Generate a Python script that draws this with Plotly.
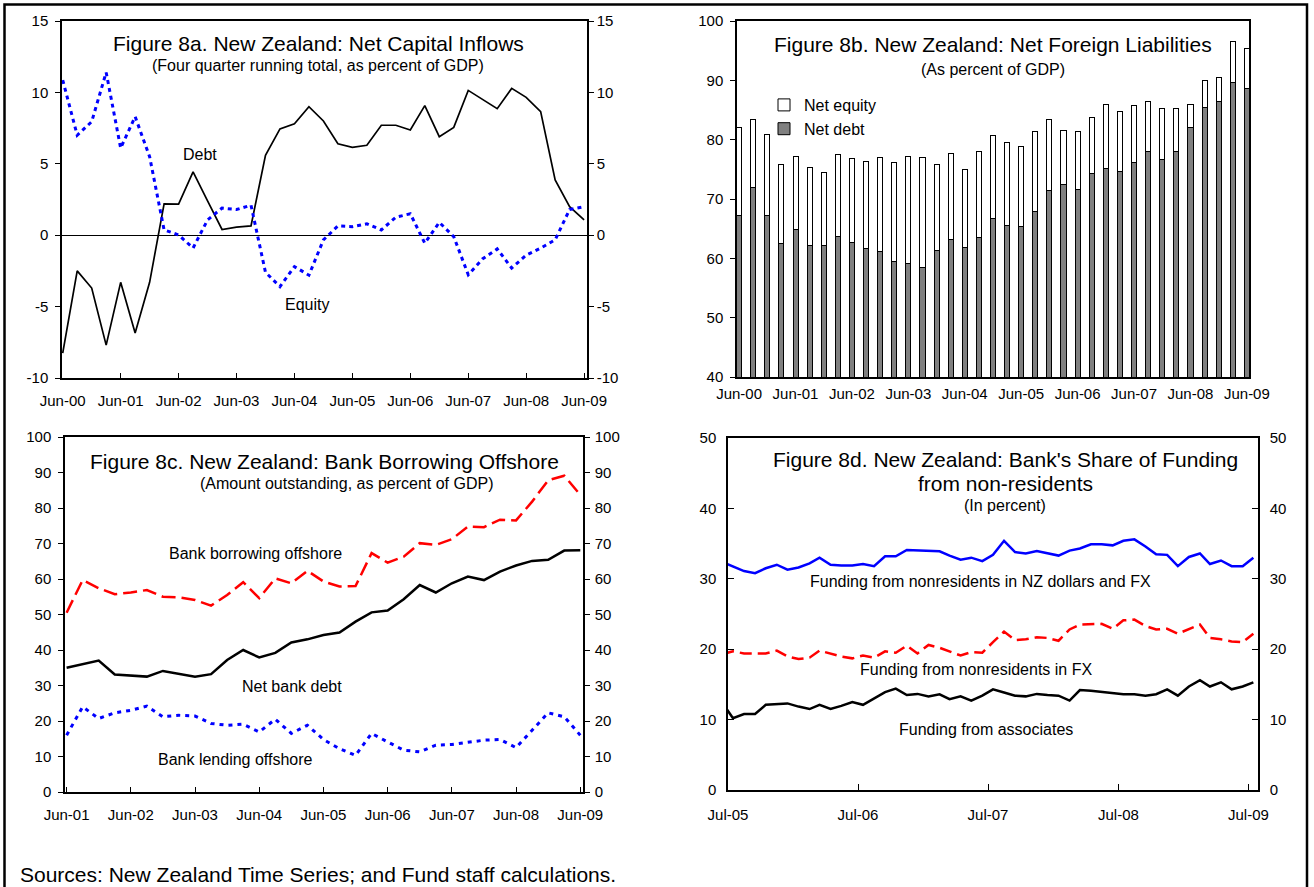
import plotly.graph_objects as go
import pandas as pd

W, H = 1314, 887
FONT = "Liberation Sans, Arial, sans-serif"

# ---------------- Data ----------------
# Figure 8a: quarterly Jun-00 .. Jun-09
q_a = ["Jun-00", "Sep-00", "Dec-00", "Mar-01", "Jun-01", "Sep-01", "Dec-01", "Mar-02",
       "Jun-02", "Sep-02", "Dec-02", "Mar-03", "Jun-03", "Sep-03", "Dec-03", "Mar-04",
       "Jun-04", "Sep-04", "Dec-04", "Mar-05", "Jun-05", "Sep-05", "Dec-05", "Mar-06",
       "Jun-06", "Sep-06", "Dec-06", "Mar-07", "Jun-07", "Sep-07", "Dec-07", "Mar-08",
       "Jun-08", "Sep-08", "Dec-08", "Mar-09", "Jun-09"]
debt_flow = [-8.25, -2.5, -3.7, -7.7, -3.3, -6.85, -3.3, 2.2, 2.17, 4.43, 2.4, 0.4, 0.56, 0.65,
             5.6, 7.44, 7.8, 9.0, 8.0, 6.4, 6.15, 6.3, 7.7, 7.7, 7.37, 9.07, 6.9, 7.55, 10.14,
             9.5, 8.86, 10.28, 9.65, 8.65, 3.87, 2.0, 1.07]
equity_flow = [10.86, 7.0, 7.95, 11.4, 6.1, 8.3, 5.5, 0.37, 0.02, -0.9, 1.07, 1.9, 1.8, 2.1,
               -2.6, -3.6, -2.2, -2.8, -0.33, 0.65, 0.6, 0.8, 0.37, 1.26, 1.5, -0.56, 0.9,
               -0.1, -2.77, -1.65, -0.96, -2.3, -1.4, -0.9, -0.33, 1.8, 2.0]
ticks_a = [-10, -5, 0, 5, 10, 15]
ticktext_a = ["-10", "-5", "0", "5", "10", "15"]

# Figure 8b: quarterly Jun-00 .. Jun-09 (stacked bars)
net_debt = [67.2, 72.0, 67.2, 62.5, 64.8, 62.1, 62.2, 63.6, 62.6, 61.6, 61.1, 59.4, 59.1, 58.5,
            61.3, 63.1, 61.9, 63.5, 66.7, 65.6, 65.4, 67.9, 71.4, 72.4, 71.6, 74.3, 75.1, 74.6,
            76.1, 78.0, 76.7, 78.0, 82.0, 85.4, 86.5, 89.6, 88.6]
net_equity = [14.9, 11.4, 13.6, 13.3, 12.3, 13.2, 12.2, 13.9, 14.2, 14.7, 15.9, 16.8, 18.0, 18.5,
              14.5, 14.5, 13.1, 14.5, 14.0, 13.9, 13.5, 13.4, 12.0, 9.1, 9.8, 9.4, 10.9, 10.2,
              9.6, 8.5, 8.5, 7.2, 4.0, 4.5, 3.9, 6.9, 6.7]

# Figure 8c: quarterly Jun-01 .. Jun-09
q_c = q_a[4:]
net_bank_debt = [35.0, 36.0, 37.0, 33.1, 32.9, 32.5, 34.1, 33.2, 32.5, 33.2, 37.2, 40.0, 37.9,
                 39.2, 42.1, 43.0, 44.2, 44.9, 48.0, 50.6, 51.1, 54.3, 58.3, 56.2, 58.8, 60.7,
                 59.7, 62.1, 63.8, 65.1, 65.4, 68.0, 68.1]
bank_borrowing = [50.5, 59.7, 57.4, 55.7, 56.2, 56.9, 55.0, 54.8, 54.1, 52.5, 55.5, 59.1, 54.6,
                  60.2, 58.8, 62.3, 59.3, 57.9, 58.0, 67.3, 64.6, 66.3, 70.1, 69.6, 71.2, 74.8,
                  74.6, 76.7, 76.5, 81.8, 87.8, 89.1, 83.7]
bank_lending = [16.0, 24.0, 20.7, 22.3, 23.0, 24.2, 21.2, 21.6, 21.4, 19.3, 18.8, 19.1, 16.9,
                20.5, 16.5, 18.8, 14.8, 12.2, 10.3, 16.5, 14.1, 11.8, 11.3, 13.2, 13.4, 14.1,
                14.6, 14.8, 12.5, 17.4, 22.3, 21.2, 16.0]

# Figure 8d: monthly Jun-05 .. Jul-09 (plotted mid-month)
months_d = list(pd.date_range("2005-06-01", "2009-07-01", freq="MS") + pd.Timedelta(days=14))
fund_nz_fx = [32.4, 31.8, 31.1, 30.8, 31.5, 32.0, 31.3, 31.6, 32.2, 33.0, 32.0, 31.9, 31.9, 32.1,
              31.8, 33.2, 33.2, 34.1, 34.0, 34.0, 33.9, 33.3, 32.7, 33.0, 32.5, 33.4, 35.4, 33.8,
              33.6, 33.95, 33.6, 33.3, 34.0, 34.3, 34.9, 34.9, 34.75, 35.4, 35.6, 34.6, 33.5,
              33.4, 31.8, 33.1, 33.6, 32.1, 32.6, 31.8, 31.8, 33.0]
fund_fx = [19.3, 19.7, 19.4, 19.4, 19.4, 19.8, 18.97, 18.6, 18.8, 19.8, 19.35, 18.97, 18.7, 19.1,
           18.8, 19.7, 19.5, 20.5, 19.4, 20.6, 20.2, 19.7, 19.1, 19.6, 19.5, 21.0, 22.5, 21.3,
           21.4, 21.7, 21.6, 21.2, 22.8, 23.5, 23.6, 23.6, 22.9, 24.1, 24.2, 23.3, 22.8, 22.9,
           22.2, 22.9, 23.5, 21.6, 21.4, 21.1, 21.0, 22.2]
fund_assoc = [12.4, 10.2, 10.8, 10.8, 12.1, 12.2, 12.3, 11.85, 11.5, 12.1, 11.5, 11.95, 12.5,
              12.1, 13.0, 13.9, 14.4, 13.5, 13.65, 13.3, 13.6, 12.9, 13.3, 12.7, 13.4, 14.3,
              13.85, 13.4, 13.3, 13.65, 13.5, 13.4, 12.7, 14.2, 14.1, 13.9, 13.75, 13.6, 13.6,
              13.4, 13.6, 14.3, 13.4, 14.7, 15.6, 14.7, 15.3, 14.3, 14.7, 15.3]
ticks_d_dates = ["2005-07-01", "2006-07-01", "2007-07-01", "2008-07-01", "2009-07-01"]
ticks_d_text = ["Jul-05", "Jul-06", "Jul-07", "Jul-08", "Jul-09"]


# ---------------- helpers (pixel -> paper) ----------------
def px(x):
    return x / W


def py(y):
    return 1 - y / H


BLUE = "#0000FF"
RED = "#FF0000"

fig = go.Figure()

# 8a
fig.add_trace(go.Scatter(x=q_a, y=debt_flow, mode="lines", xaxis="x", yaxis="y",
                         line=dict(color="black", width=1.7), showlegend=False))
fig.add_trace(go.Scatter(x=q_a, y=equity_flow, mode="lines", xaxis="x", yaxis="y2",
                         line=dict(color=BLUE, width=3, dash="4px,4px"), showlegend=False))
# 8b
fig.add_trace(go.Bar(x=q_a, y=net_debt, name="Net debt", xaxis="x2", yaxis="y3",
                     marker=dict(color="#808080", line=dict(color="black", width=1))))
fig.add_trace(go.Bar(x=q_a, y=net_equity, name="Net equity", xaxis="x2", yaxis="y3",
                     marker=dict(color="white", line=dict(color="black", width=1))))
# 8c
fig.add_trace(go.Scatter(x=q_c, y=bank_borrowing, mode="lines", xaxis="x3", yaxis="y5",
                         line=dict(color=RED, width=2.5, dash="14px,6px"), showlegend=False))
fig.add_trace(go.Scatter(x=q_c, y=net_bank_debt, mode="lines", xaxis="x3", yaxis="y5",
                         line=dict(color="black", width=2.5), showlegend=False))
fig.add_trace(go.Scatter(x=q_c, y=bank_lending, mode="lines", xaxis="x3", yaxis="y6",
                         line=dict(color=BLUE, width=3, dash="4px,5px"), showlegend=False))
# 8d
fig.add_trace(go.Scatter(x=months_d, y=fund_nz_fx, mode="lines", xaxis="x4", yaxis="y7",
                         line=dict(color=BLUE, width=2.5), showlegend=False))
fig.add_trace(go.Scatter(x=months_d, y=fund_fx, mode="lines", xaxis="x4", yaxis="y7",
                         line=dict(color=RED, width=2.5, dash="12px,6px"), showlegend=False))
fig.add_trace(go.Scatter(x=months_d, y=fund_assoc, mode="lines", xaxis="x4", yaxis="y8",
                         line=dict(color="black", width=2.5), showlegend=False))

tickfont = dict(family=FONT, size=15, color="black")
axline = dict(showline=True, linecolor="black", linewidth=1.5, showgrid=False,
              tickfont=tickfont, tickcolor="black", fixedrange=True, automargin=False)

dom = {
    "a": ([px(62), px(587)], [py(378), py(21)]),
    "b": ([px(737), px(1249)], [py(377), py(21)]),
    "c": ([px(65), px(583)], [py(792), py(437)]),
    "d": ([px(728), px(1258)], [py(790), py(438)]),
}

fig.update_layout(
    template="none",
    # 8a
    xaxis=dict(domain=dom["a"][0], anchor="y", type="category", categoryorder="array",
               categoryarray=q_a, range=[-0.05, 36.2], tickvals=q_a[::4], zeroline=False,
               ticks="inside", ticklen=5, mirror=True, ticklabelstandoff=8, **axline),
    yaxis=dict(domain=dom["a"][1], anchor="x", range=[-10, 15], tickvals=ticks_a,
               ticktext=ticktext_a, ticks="outside", ticklen=5, mirror=True,
               ticklabelstandoff=4, zeroline=True, zerolinecolor="black", zerolinewidth=1,
               **axline),
    yaxis2=dict(anchor="x", overlaying="y", side="right", range=[-10, 15], tickvals=ticks_a,
                ticktext=ticktext_a, ticks="outside", ticklen=5, ticklabelstandoff=0,
                zeroline=False, **axline),
    # 8b
    xaxis2=dict(domain=dom["b"][0], anchor="y3", type="category", categoryorder="array",
                categoryarray=q_a, range=[-0.15, 36.15], tickvals=q_a[::4], ticks="",
                mirror=True, ticklabelstandoff=2, zeroline=False, **axline),
    yaxis3=dict(domain=dom["b"][1], anchor="x2", range=[40, 100], dtick=10, ticks="outside",
                ticklen=5, mirror=True, ticklabelstandoff=4, zeroline=False, **axline),
    yaxis4=dict(anchor="x2", overlaying="y3", side="right", range=[40, 100], dtick=10,
                ticks="outside", ticklen=5, ticklabelstandoff=1, zeroline=False, **axline),
    # 8c
    xaxis3=dict(domain=dom["c"][0], anchor="y5", type="category", categoryorder="array",
                categoryarray=q_c, range=[-0.1, 32.17], tickvals=q_c[::4], ticks="inside",
                ticklen=5, mirror=True, ticklabelstandoff=8, zeroline=False, **axline),
    yaxis5=dict(domain=dom["c"][1], anchor="x3", range=[0, 100], dtick=10, ticks="outside",
                ticklen=5, mirror=True, ticklabelstandoff=4, zeroline=False, **axline),
    yaxis6=dict(anchor="x3", overlaying="y5", side="right", range=[0, 100], dtick=10,
                ticks="outside", ticklen=5, ticklabelstandoff=2, zeroline=False, **axline),
    # 8d
    xaxis4=dict(domain=dom["d"][0], anchor="y7", type="date",
                range=["2005-07-01", "2009-07-28"], tickvals=ticks_d_dates,
                ticktext=ticks_d_text, ticks="inside", ticklen=6, mirror=True,
                ticklabelstandoff=10, zeroline=False, **axline),
    yaxis7=dict(domain=dom["d"][1], anchor="x4", range=[0, 50], dtick=10, ticks="inside",
                ticklen=6, mirror=True, ticklabelstandoff=7, zeroline=False, **axline),
    yaxis8=dict(anchor="x4", overlaying="y7", side="right", range=[0, 50], dtick=10,
                ticks="inside", ticklen=6, ticklabelstandoff=7, zeroline=False, **axline),
    barmode="stack",
    bargap=0.64,
    width=W, height=H,
    autosize=False,
    margin=dict(l=0, r=0, t=0, b=0, pad=0),
    paper_bgcolor="white", plot_bgcolor="white",
    font=dict(family=FONT, color="black"),
    showlegend=True,
    legend=dict(x=px(764), y=py(88), xanchor="left", yanchor="top",
                traceorder="reversed", bgcolor="rgba(0,0,0,0)",
                font=dict(family=FONT, size=16, color="black"),
                itemwidth=30, tracegroupgap=0),
)


def note(text, x, y, size):
    fig.add_annotation(text=text, x=px(x), y=py(y), xref="paper", yref="paper",
                       showarrow=False, xanchor="center", yanchor="middle",
                       font=dict(family=FONT, size=size, color="black"))


# Titles
note("Figure 8a. New Zealand: Net Capital Inflows", 318.5, 43, 21)
note("(Four quarter running total, as percent of GDP)", 317.5, 66, 16)
note("Figure 8b. New Zealand: Net Foreign Liabilities", 992.5, 45, 21)
note("(As percent of GDP)", 993, 69, 16)
note("Figure 8c. New Zealand: Bank Borrowing Offshore", 324, 461, 21)
note("(Amount outstanding, as percent of GDP)", 346.5, 483, 16)
note("Figure 8d. New Zealand: Bank's Share of Funding", 1005, 459, 21)
note("from non-residents", 1005, 483, 21)
note("(In percent)", 1005, 505, 16)

# Series labels
note("Debt", 199.5, 154, 16)
note("Equity", 307, 304, 16)
note("Bank borrowing offshore", 255, 553, 16)
note("Net bank debt", 292, 686, 16)
note("Bank lending offshore", 235, 759, 16)
note("Funding from nonresidents in NZ dollars and FX", 980, 581, 16)
note("Funding from nonresidents in FX", 976, 669, 16)
note("Funding from associates", 986, 729, 16)

# Source
fig.add_annotation(text="Sources: New Zealand Time Series; and Fund staff calculations.",
                   x=px(18), y=py(874), xref="paper", yref="paper", showarrow=False,
                   xanchor="left", yanchor="middle",
                   font=dict(family=FONT, size=21, color="black"))

# Outer frame
fig.add_shape(type="rect", xref="paper", yref="paper", x0=px(4.5), x1=px(1307),
              y0=-0.02, y1=py(4.5), line=dict(color="black", width=2.5), layer="below")

fig.write_html("out.html", config={"displayModeBar": False},
               post_script="document.body.style.margin='0';"
                           "document.body.style.overflow='hidden';")
